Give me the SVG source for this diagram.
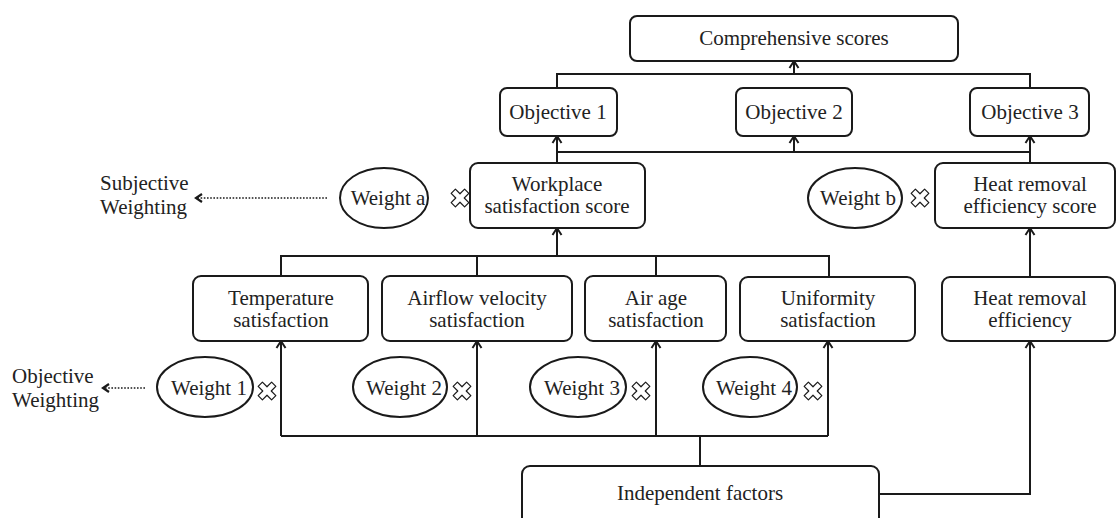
<svg xmlns="http://www.w3.org/2000/svg" width="1117" height="518" viewBox="0 0 1117 518">
<style>
.box{fill:#fff;stroke:#1a1a1a;stroke-width:2}
.ell{fill:#fff;stroke:#1a1a1a;stroke-width:2}
.t{font-family:"Liberation Serif","Times New Roman",serif;font-size:21px;fill:#222;text-anchor:middle}
.tl{font-family:"Liberation Serif","Times New Roman",serif;font-size:21px;fill:#222;text-anchor:start}
.con{fill:none;stroke:#1a1a1a;stroke-width:2}
.dot{fill:none;stroke:#1a1a1a;stroke-width:1.6;stroke-dasharray:1.6 1.6}
.x{fill:#fff;stroke:#1a1a1a;stroke-width:1.2;stroke-linejoin:round}
</style>
<defs>
<marker id="arr" markerUnits="userSpaceOnUse" viewBox="-10 -6 12 12" markerWidth="12" markerHeight="12" refX="0" refY="0" orient="auto">
<path d="M-7,-4.5 L0,0 L-7,4.5" fill="none" stroke="#1a1a1a" stroke-width="2"/>
</marker>
<marker id="arrd" markerUnits="userSpaceOnUse" viewBox="-10 -6 12 12" markerWidth="12" markerHeight="12" refX="0" refY="0" orient="auto">
<path d="M-6,-4 L0,0 L-6,4" fill="none" stroke="#1a1a1a" stroke-width="2.2"/>
</marker>
<polygon id="cross" class="x" transform="rotate(45)" points="3,-9.5 3,-3 9.5,-3 9.5,3 3,3 3,9.5 -3,9.5 -3,3 -9.5,3 -9.5,-3 -3,-3 -3,-9.5"/>
</defs>

<g id="connectors">
<path class="con" d="M557,88 V74 H1030 V88"/>
<path class="con" d="M794,74 V61" marker-end="url(#arr)"/>
<path class="con" d="M557,152 H1030"/>
<path class="con" d="M557,163 V136" marker-end="url(#arr)"/>
<path class="con" d="M794,152 V136" marker-end="url(#arr)"/>
<path class="con" d="M1030,163 V136" marker-end="url(#arr)"/>
<path class="con" d="M281,276 V256 H829 V276"/>
<path class="con" d="M477,256 V276"/>
<path class="con" d="M656,256 V276"/>
<path class="con" d="M557,256 V228" marker-end="url(#arr)"/>
<path class="con" d="M281,436 H828"/>
<path class="con" d="M281,436 V341" marker-end="url(#arr)"/>
<path class="con" d="M477,436 V341" marker-end="url(#arr)"/>
<path class="con" d="M656,436 V341" marker-end="url(#arr)"/>
<path class="con" d="M828,436 V341" marker-end="url(#arr)"/>
<path class="con" d="M700,436 V466"/>
<path class="con" d="M879,494 H1030 V341" marker-end="url(#arr)"/>
<path class="con" d="M1030,277 V228" marker-end="url(#arr)"/>
<path class="dot" d="M327,198 H196" marker-end="url(#arrd)"/>
<path class="dot" d="M145,388 H103" marker-end="url(#arrd)"/>
</g>

<g id="comprehensive"><rect class="box" x="630" y="16" width="328" height="45" rx="7"/><text class="t" x="794" y="45">Comprehensive scores</text></g>
<g id="objective1"><rect class="box" x="500" y="88" width="117" height="48" rx="7"/><text class="t" x="558" y="119">Objective 1</text></g>
<g id="objective2"><rect class="box" x="736" y="88" width="116" height="48" rx="7"/><text class="t" x="794" y="119">Objective 2</text></g>
<g id="objective3"><rect class="box" x="970" y="88" width="119" height="48" rx="7"/><text class="t" x="1030" y="119">Objective 3</text></g>

<g id="workplace"><rect class="box" x="470" y="163" width="175" height="65" rx="8"/><text class="t" x="557" y="191">Workplace</text><text class="t" x="557" y="213">satisfaction score</text></g>
<g id="heatscore"><rect class="box" x="935" y="163" width="180" height="65" rx="8"/><text class="t" x="1030" y="191">Heat removal</text><text class="t" x="1030" y="213">efficiency score</text></g>

<g id="weighta"><ellipse class="ell" cx="384" cy="198" rx="44" ry="30"/><text class="t" x="388" y="205">Weight a</text><use href="#cross" x="460" y="198"/></g>
<g id="weightb"><ellipse class="ell" cx="855" cy="198" rx="47" ry="30"/><text class="t" x="858" y="205">Weight b</text><use href="#cross" x="920" y="198"/></g>

<g id="subjective"><text class="tl" x="100" y="190">Subjective</text><text class="tl" x="100" y="214">Weighting</text></g>
<g id="objectiveW"><text class="tl" x="12" y="383">Objective</text><text class="tl" x="12" y="407">Weighting</text></g>

<g id="temperature"><rect class="box" x="193" y="276" width="175" height="65" rx="8"/><text class="t" x="281" y="305">Temperature</text><text class="t" x="281" y="327">satisfaction</text></g>
<g id="airflow"><rect class="box" x="382" y="276" width="190" height="65" rx="8"/><text class="t" x="477" y="305">Airflow velocity</text><text class="t" x="477" y="327">satisfaction</text></g>
<g id="airage"><rect class="box" x="585" y="276" width="141" height="65" rx="8"/><text class="t" x="656" y="305">Air age</text><text class="t" x="656" y="327">satisfaction</text></g>
<g id="uniformity"><rect class="box" x="740" y="277" width="175" height="64" rx="8"/><text class="t" x="828" y="305">Uniformity</text><text class="t" x="828" y="327">satisfaction</text></g>
<g id="heateff"><rect class="box" x="942" y="277" width="173" height="64" rx="8"/><text class="t" x="1030" y="305">Heat removal</text><text class="t" x="1030" y="327">efficiency</text></g>

<g id="weight1"><ellipse class="ell" cx="205" cy="387" rx="48" ry="30"/><text class="t" x="209" y="395">Weight 1</text><use href="#cross" x="267" y="391"/></g>
<g id="weight2"><ellipse class="ell" cx="400" cy="387" rx="47" ry="30"/><text class="t" x="404" y="395">Weight 2</text><use href="#cross" x="462" y="391"/></g>
<g id="weight3"><ellipse class="ell" cx="578" cy="387" rx="48" ry="30"/><text class="t" x="582" y="395">Weight 3</text><use href="#cross" x="641" y="391"/></g>
<g id="weight4"><ellipse class="ell" cx="750" cy="387" rx="47" ry="30"/><text class="t" x="754" y="395">Weight 4</text><use href="#cross" x="813" y="391"/></g>

<g id="independent"><rect class="box" x="522" y="466" width="357" height="60" rx="8"/><text class="t" x="700" y="500">Independent factors</text></g>
</svg>
